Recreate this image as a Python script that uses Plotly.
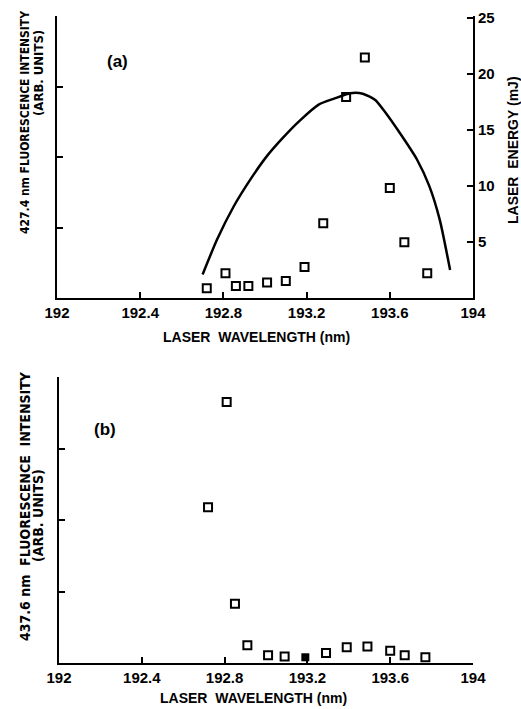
import plotly.graph_objects as go

W, H = 521, 709

# ---- Data (panel a) ----
wl_a = [192.72, 192.81, 192.86, 192.92, 193.01, 193.10, 193.19, 193.28,
        193.39, 193.48, 193.60, 193.67, 193.78]
fl_a = [0.14, 0.35, 0.17, 0.17, 0.22, 0.24, 0.44, 1.06, 2.85, 3.41, 1.56, 0.79, 0.35]

wl_energy = [192.70, 192.77, 192.85, 192.93, 193.01, 193.09, 193.17, 193.26,
             193.33, 193.41, 193.47, 193.53, 193.57, 193.65, 193.73, 193.79,
             193.84, 193.89]
energy = [2.1, 5.25, 8.2, 10.6, 12.7, 14.4, 15.9, 17.3, 17.8, 18.3, 18.25,
          17.7, 16.8, 14.7, 12.4, 10.0, 7.0, 2.5]

# ---- Data (panel b) ----
wl_b = [192.72, 192.81, 192.85, 192.91, 193.01, 193.09, 193.29,
        193.39, 193.49, 193.60, 193.67, 193.77]
fl_b = [2.18, 3.65, 0.83, 0.25, 0.11, 0.09, 0.14, 0.22, 0.23, 0.17, 0.11, 0.08]
wl_b_filled = [193.19]
fl_b_filled = [0.08]

x_ticks = [192, 192.4, 192.8, 193.2, 193.6, 194]
x_ticktext = ["192", "192.4", "192.8", "193.2", "193.6", "194"]
e_ticks = [5, 10, 15, 20, 25]

FONT = "Liberation Sans, Arial, sans-serif"
NARROW = "Liberation Sans Narrow, DejaVu Sans Condensed, Liberation Sans, sans-serif"

def px(x):
    return x / W

def py(y):
    return 1 - y / H

fig = go.Figure()

mk = dict(symbol="square-open", size=8, color="black", line=dict(width=2, color="black"))

fig.add_trace(go.Scatter(x=wl_a, y=fl_a, mode="markers", marker=mk,
                         xaxis="x", yaxis="y", showlegend=False))
fig.add_trace(go.Scatter(x=wl_energy, y=energy, mode="lines",
                         line=dict(color="black", width=2.5, shape="spline", smoothing=0.6),
                         xaxis="x", yaxis="y2", showlegend=False))
fig.add_trace(go.Scatter(x=wl_b, y=fl_b, mode="markers", marker=mk,
                         xaxis="x2", yaxis="y3", showlegend=False))
fig.add_trace(go.Scatter(x=wl_b_filled, y=fl_b_filled, mode="markers",
                         marker=dict(symbol="square", size=8, color="black"),
                         xaxis="x2", yaxis="y3", showlegend=False, cliponaxis=False))

axis_common = dict(showline=True, linecolor="black", linewidth=2, showgrid=False,
                   zeroline=False, ticks="inside", ticklen=6, tickwidth=1.5,
                   tickcolor="black", automargin=False)
xfont = dict(family=FONT, size=15, color="black", weight="bold")

fig.update_layout(
    width=W, height=H,
    margin=dict(l=0, r=0, t=0, b=0),
    paper_bgcolor="white", plot_bgcolor="white",
    font=dict(family=FONT, color="black"),
    xaxis=dict(domain=[px(57), px(473)], range=[192, 194], anchor="y",
               tickvals=x_ticks, ticktext=x_ticktext, tickfont=xfont, **axis_common),
    yaxis=dict(domain=[py(298), py(16)], range=[0, 4], anchor="x",
               tickvals=[0, 1, 2, 3, 4], showticklabels=False, **axis_common),
    yaxis2=dict(overlaying="y", side="right", anchor="x", range=[0, 25.2],
                tickvals=e_ticks, tickfont=xfont, **axis_common),
    xaxis2=dict(domain=[px(59), px(473)], range=[192, 194], anchor="y3",
                tickvals=x_ticks, ticktext=x_ticktext, tickfont=xfont, **axis_common),
    yaxis3=dict(domain=[py(663), py(377)], range=[0, 4], anchor="x2",
                tickvals=[0, 1, 2, 3, 4], showticklabels=False, **axis_common),
)

def ann(text, x, y, size=13, angle=0, family=FONT):
    fig.add_annotation(text=text, x=px(x), y=py(y), xref="paper", yref="paper",
                       showarrow=False, textangle=angle, xanchor="center", yanchor="middle",
                       font=dict(family=family, size=size, color="black", weight="bold"))

ann("LASER  WAVELENGTH (nm)", 256, 337, size=14)
ann("LASER  WAVELENGTH (nm)", 253, 698, size=14)
ann("427.4 nm FLUORESCENCE INTENSITY", 25, 123, size=12, angle=-90, family=NARROW)
ann("(ARB. UNITS)", 38, 73, size=13, angle=-90, family=NARROW)
ann("437.6 nm  FLUORESCENCE  INTENSITY", 25, 506, size=14, angle=-90, family=NARROW)
ann("(ARB. UNITS)", 38, 516, size=14, angle=-90, family=NARROW)
ann("LASER  ENERGY (mJ)", 513, 150, size=14, angle=-90)
ann("(a)", 117, 62, size=17)
ann("(b)", 105, 430, size=17)

fig.write_html("out.html")
